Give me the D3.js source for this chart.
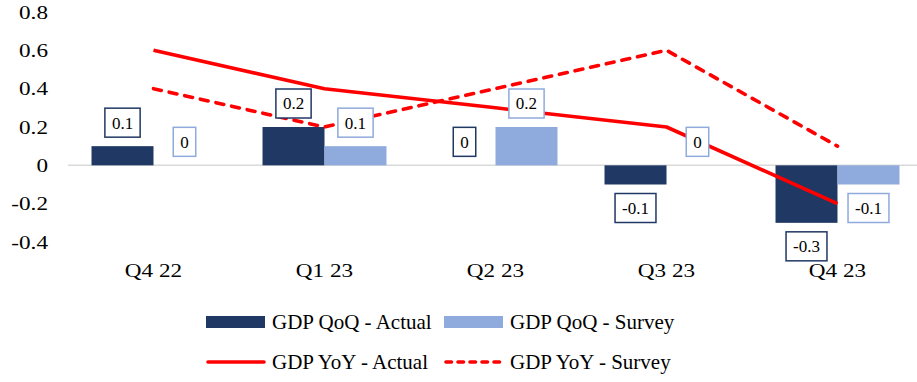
<!DOCTYPE html>
<html>
<head>
<meta charset="utf-8">
<script src="https://cdn.jsdelivr.net/npm/d3@7"></script>
<style>
  body { margin: 0; background: #fff; }
  text { font-family: "Liberation Serif", "Times New Roman", serif; fill: #000; }
</style>
</head>
<body>
<svg id="chart"></svg>
<script>
// data
const quarters = ["Q4 22", "Q1 23", "Q2 23", "Q3 23", "Q4 23"];
const qoqActual = [0.1, 0.2, 0, -0.1, -0.3];
const qoqSurvey = [0, 0.1, 0.2, 0, -0.1];
const yoyActual = [0.6, 0.4, 0.3, 0.2, -0.2];
const yoySurvey = [0.4, 0.2, 0.4, 0.6, 0.1];
const yTicks = [-0.4, -0.2, 0, 0.2, 0.4, 0.6, 0.8];

const width = 917, height = 382;
const navy = "#203864", lightBlue = "#8faadc", red = "#ff0000";

const svg = d3.select("#chart").attr("width", width).attr("height", height);

const x = d3.scaleBand().domain(quarters).range([68, 923])
  .paddingInner(0.275).paddingOuter(0.1375);
const xSub = d3.scaleBand().domain(["actual", "survey"]).range([0, x.bandwidth()]);
const y = d3.scaleLinear().domain([-0.4, 0.8]).range([242, 12]);

// y labels (axis text is drawn a bit wide, like the original)
svg.append("g").selectAll("text").data(yTicks).join("text")
  .attr("transform", d => `translate(48,${y(d)}) scale(1.22,1)`)
  .attr("dy", "0.35em")
  .attr("text-anchor", "end").style("font-size", "19px")
  .text(d => +d.toFixed(1));

// baseline
svg.append("line").attr("x1", 68).attr("x2", width)
  .attr("y1", y(0)).attr("y2", y(0))
  .attr("stroke", "#d9d9d9").attr("stroke-width", 1.5);

// bars
const series = [
  { key: "actual", values: qoqActual, color: navy },
  { key: "survey", values: qoqSurvey, color: lightBlue }
];
series.forEach(s => {
  svg.append("g").selectAll("rect").data(s.values).join("rect")
    .attr("x", (d, i) => x(quarters[i]) + xSub(s.key))
    .attr("width", xSub.bandwidth())
    .attr("y", d => y(Math.max(0, d)))
    .attr("height", d => Math.abs(y(d) - y(0)))
    .attr("fill", s.color);
});

// lines
const cx = (d, i) => x(quarters[i]) + x.bandwidth() / 2;
const line = d3.line().x(cx).y(d => y(d));
svg.append("path").datum(yoyActual).attr("d", line)
  .attr("fill", "none").attr("stroke", red).attr("stroke-width", 3.6)
  .attr("stroke-linejoin", "round");
svg.append("path").datum(yoySurvey).attr("d", line)
  .attr("fill", "none").attr("stroke", red).attr("stroke-width", 3.6)
  .attr("stroke-linejoin", "round").attr("stroke-linecap", "round")
  .attr("stroke-dasharray", "8,8");

// data labels
series.forEach(s => {
  const g = svg.append("g").selectAll("g").data(s.values).join("g")
    .attr("transform", (d, i) => {
      const px = x(quarters[i]) + xSub(s.key) + xSub.bandwidth() / 2;
      const py = d >= 0 ? y(d) - 23.5 : y(d) + 23.5;
      return `translate(${px},${py})`;
    });
  g.append("text").attr("text-anchor", "middle").attr("dy", "0.35em")
    .style("font-size", "17px").text(d => d);
  g.each(function () {
    const bb = d3.select(this).select("text").node().getBBox();
    d3.select(this).insert("rect", "text")
      .attr("x", -bb.width / 2 - 7).attr("width", bb.width + 14)
      .attr("y", -14.5).attr("height", 29)
      .attr("fill", "#fff").attr("stroke", s.color).attr("stroke-width", 1.5);
  });
});

// category labels
svg.append("g").selectAll("text").data(quarters).join("text")
  .attr("transform", (d, i) => `translate(${cx(d, i)},270) scale(1.22,1)`)
  .attr("dy", "0.35em")
  .attr("text-anchor", "middle").style("font-size", "19px").text(d => d);

// legend
const legend = [
  { label: "GDP QoQ - Actual", type: "bar", color: navy, lx: 206, ly: 322 },
  { label: "GDP QoQ - Survey", type: "bar", color: lightBlue, lx: 444, ly: 322 },
  { label: "GDP YoY - Actual", type: "line", color: red, lx: 206, ly: 362 },
  { label: "GDP YoY - Survey", type: "dash", color: red, lx: 444, ly: 362 }
];
const lg = svg.append("g").selectAll("g").data(legend).join("g")
  .attr("transform", d => `translate(${d.lx},${d.ly})`);
lg.filter(d => d.type === "bar").append("rect")
  .attr("x", 0).attr("y", -6).attr("width", 59).attr("height", 12)
  .attr("fill", d => d.color);
lg.filter(d => d.type !== "bar").append("line")
  .attr("x1", 2).attr("x2", 58).attr("y1", 0).attr("y2", 0)
  .attr("stroke", d => d.color).attr("stroke-width", 3.6)
  .attr("stroke-linecap", "round")
  .attr("stroke-dasharray", d => d.type === "dash" ? "5.5,6.5" : null);
lg.append("text").attr("x", 66).attr("dy", "0.35em")
  .style("font-size", "21px").text(d => d.label);
</script>
</body>
</html>
